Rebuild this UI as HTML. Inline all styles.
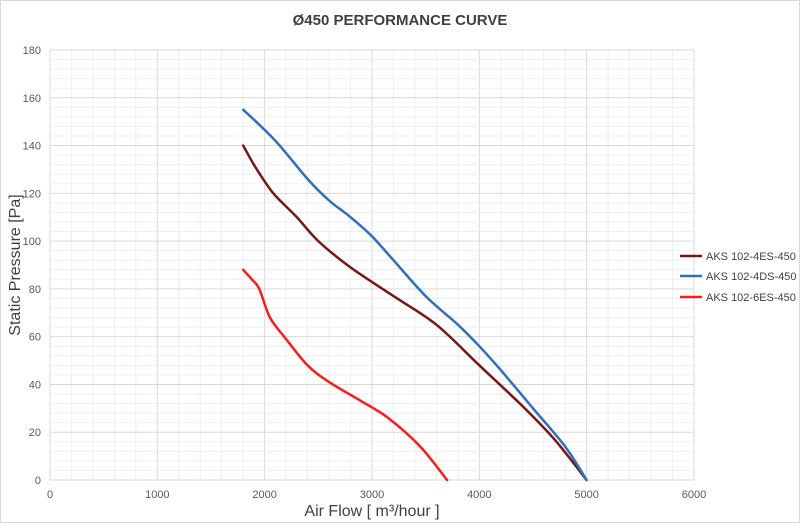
<!DOCTYPE html>
<html><head><meta charset="utf-8"><style>
html,body{margin:0;padding:0;background:#fff;}
body{width:800px;height:523px;overflow:hidden;font-family:"Liberation Sans",sans-serif;}
</style></head><body>
<svg id="s" width="800" height="523" xmlns="http://www.w3.org/2000/svg" font-family="Liberation Sans, sans-serif">
<rect x="0.5" y="0.5" width="799" height="522" fill="#fff" stroke="#d9d9d9"/>
<g id="grid"></g>
<text x="400" y="25" text-anchor="middle" font-size="15" font-weight="bold" fill="#404040">Ø450 PERFORMANCE CURVE</text>
<g id="labels" font-size="11" fill="#595959"></g>
<text x="372" y="516" text-anchor="middle" font-size="16" fill="#404040">Air Flow [ m³/hour ]</text>
<text transform="translate(20,265) rotate(-90)" text-anchor="middle" font-size="16" fill="#404040">Static Pressure [Pa]</text>
<g id="curves" fill="none" stroke-width="2.5" stroke-linejoin="round" stroke-linecap="round"></g>
<g font-size="11" fill="#404040">
<line x1="680" y1="256" x2="702" y2="256" stroke="#7b1414" stroke-width="2.5"/><text x="706" y="260">AKS 102-4ES-450</text>
<line x1="680" y1="276" x2="702" y2="276" stroke="#2e6fbf" stroke-width="2.5"/><text x="706" y="280">AKS 102-4DS-450</text>
<line x1="680" y1="297" x2="702" y2="297" stroke="#ff1a1a" stroke-width="2.5"/><text x="706" y="301">AKS 102-6ES-450</text>
</g>
</svg>
<script>
function X(v){return 50+v*0.10733;} function Y(p){return 480-p*2.3889;}
var g=document.getElementById('grid'),h='';
for(var v=0;v<=6000;v+=200){var maj=v%1000==0;h+='<line x1="'+X(v)+'" y1="50" x2="'+X(v)+'" y2="480" stroke="'+(maj?'#d9d9d9':'#efefef')+'" stroke-width="1"/>';}
for(var p=0;p<=180;p+=4){var maj=p%20==0;h+='<line x1="50" y1="'+Y(p)+'" x2="694" y2="'+Y(p)+'" stroke="'+(maj?'#d9d9d9':'#efefef')+'" stroke-width="1"/>';}
g.innerHTML=h;
var l='';
for(var v=0;v<=6000;v+=1000)l+='<text x="'+X(v)+'" y="498" text-anchor="middle">'+v+'</text>';
for(var p=0;p<=180;p+=20)l+='<text x="41" y="'+(Y(p)+4)+'" text-anchor="end">'+p+'</text>';
document.getElementById('labels').innerHTML=l;
function path(pts,c){
 var P=pts.map(function(q){return [X(q[0]),Y(q[1])];});
 var d='M'+P[0][0].toFixed(1)+' '+P[0][1].toFixed(1);
 for(var i=0;i<P.length-1;i++){
  var p0=P[i-1]||P[i],p1=P[i],p2=P[i+1],p3=P[i+2]||P[i+1],t=6;
  var c1=[p1[0]+(p2[0]-p0[0])/t,p1[1]+(p2[1]-p0[1])/t];
  var c2=[p2[0]-(p3[0]-p1[0])/t,p2[1]-(p3[1]-p1[1])/t];
  d+='C'+c1[0].toFixed(1)+' '+c1[1].toFixed(1)+' '+c2[0].toFixed(1)+' '+c2[1].toFixed(1)+' '+p2[0].toFixed(1)+' '+p2[1].toFixed(1);
 }
 return '<path d="'+d+'" stroke="'+c+'"/>';}
var c='';
c+=path([[1800,140],[1900,132],[2000,125],[2100,119],[2300,110],[2500,100],[2800,89],[3200,77],[3600,65],[4000,48],[4400,31],[4700,17],[5000,0]],'#7b1414');
c+=path([[1800,155],[2100,142],[2400,126],[2600,117],[2800,110],[3000,102],[3200,92],[3500,77],[3800,65],[4000,56],[4200,46],[4500,30],[4800,14],[5000,0]],'#2e6fbf');
c+=path([[1800,88],[1880,84],[1950,80],[2050,68],[2200,59],[2400,48],[2600,41],[2900,33],[3150,26],[3450,14],[3700,0]],'#ff1a1a');
document.getElementById('curves').innerHTML=c;
</script>
</body></html>
